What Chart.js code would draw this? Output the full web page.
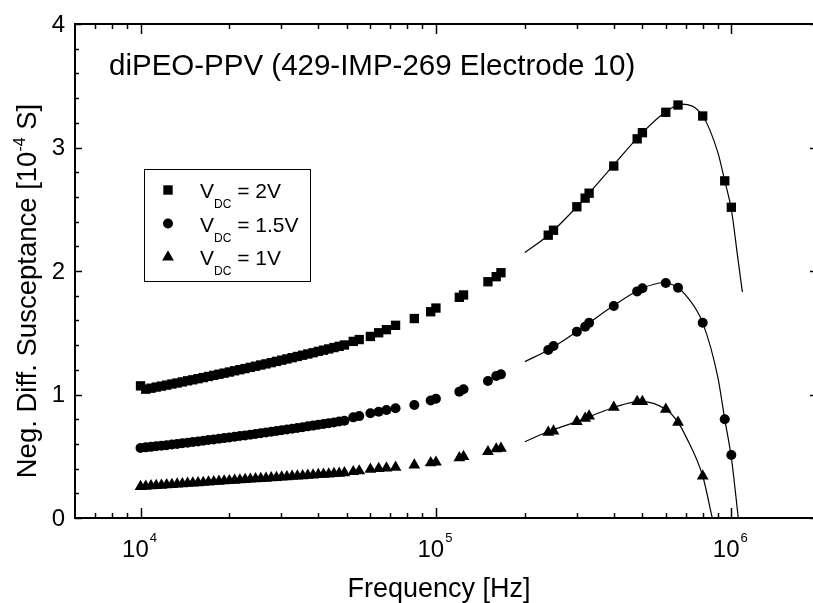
<!DOCTYPE html>
<html>
<head>
<meta charset="utf-8">
<title>diPEO-PPV susceptance</title>
<script src="https://cdn.jsdelivr.net/npm/chart.js@4.4.1/dist/chart.umd.min.js"></script>
<style>
  html, body { margin: 0; padding: 0; background: #fff; overflow: hidden; }
  #wrap { width: 820px; height: 603px; }
</style>
</head>
<body>
<div id="wrap"><canvas id="grafico" width="820" height="603"></canvas></div>
<script>

// frequency sweep [Hz], same for the three bias voltages
let frecuencias = [10000, 10416, 10849, 11300, 11770, 12260, 12770, 13301, 13854, 14430,
  15031, 15656, 16307, 16985, 17691, 18427, 19193, 19991, 20823, 21689,
  22591, 23531, 24510, 25529, 26591, 27697, 28849, 30049, 31299, 32601,
  33957, 35369, 36841, 38373, 39969, 41632, 43364, 45168, 47047, 49004,
  52500, 55000, 60000, 64000, 68000, 73000, 84500, 96000, 100000, 120000,
  124000, 150000, 160000, 166000,
  240000, 250000, 300000, 320000, 330000, 400000, 480000, 500000, 600000, 660000,
  800000, 950000, 1000000];

// neg. diff. susceptance [1e-4 S]
let vdc2 = [1.07, 1.043, 1.051, 1.060, 1.068, 1.076, 1.085, 1.093, 1.102, 1.111,
  1.119, 1.128, 1.137, 1.146, 1.155, 1.164, 1.173, 1.182, 1.192, 1.201,
  1.210, 1.220, 1.229, 1.239, 1.248, 1.258, 1.268, 1.278, 1.288, 1.298,
  1.308, 1.318, 1.328, 1.338, 1.349, 1.359, 1.369, 1.380, 1.390, 1.401,
  1.43, 1.445, 1.47, 1.50, 1.525, 1.56, 1.615, 1.67, 1.70, 1.787,
  1.806, 1.913, 1.954, 1.986,
  2.29, 2.33, 2.52, 2.59, 2.63, 2.85, 3.07, 3.12, 3.285, 3.344,
  3.255, 2.73, 2.516];

let vdc15 = [0.567, 0.572, 0.576, 0.581, 0.586, 0.590, 0.595, 0.600, 0.605, 0.610,
  0.615, 0.620, 0.626, 0.631, 0.636, 0.641, 0.647, 0.652, 0.658, 0.664,
  0.669, 0.675, 0.681, 0.687, 0.693, 0.698, 0.704, 0.711, 0.717, 0.723,
  0.729, 0.735, 0.742, 0.748, 0.755, 0.761, 0.768, 0.774, 0.781, 0.788,
  0.815, 0.825, 0.848, 0.861, 0.875, 0.888, 0.915, 0.952, 0.965, 1.023,
  1.042, 1.109, 1.15, 1.163,
  1.36, 1.393, 1.509, 1.549, 1.58, 1.717, 1.835, 1.86, 1.903, 1.865,
  1.581, 0.80, 0.51];

let vdc1 = [0.254, 0.257, 0.260, 0.263, 0.265, 0.268, 0.271, 0.274, 0.277, 0.280,
  0.282, 0.285, 0.288, 0.291, 0.294, 0.297, 0.300, 0.302, 0.305, 0.308,
  0.311, 0.314, 0.317, 0.319, 0.322, 0.325, 0.328, 0.331, 0.334, 0.337,
  0.339, 0.342, 0.345, 0.348, 0.351, 0.354, 0.356, 0.359, 0.362, 0.365,
  0.375, 0.381, 0.394, 0.40, 0.405, 0.41, 0.429, 0.446, 0.452, 0.488,
  0.497, 0.537, 0.559, 0.564,
  0.694, 0.704, 0.78, 0.807, 0.826, 0.896, 0.942, 0.942, 0.88, 0.775,
  0.34, null, null];

// fitted curves
let ajusteFrec2 = [200000, 240000, 300000, 400000, 500000, 600000, 680000, 800000, 900000, 950000, 1000000, 1050000, 1090000];
let ajuste2 = [2.15, 2.29, 2.52, 2.86, 3.12, 3.29, 3.352, 3.255, 2.96, 2.73, 2.50, 2.12, 1.83];

let ajusteFrec15 = [200000, 240000, 300000, 400000, 500000, 590000, 660000, 700000, 800000, 900000, 950000, 1000000, 1056000];
let ajuste15 = [1.266, 1.36, 1.51, 1.72, 1.86, 1.905, 1.865, 1.806, 1.58, 1.14, 0.80, 0.49, 0];

let ajusteFrec1 = [200000, 240000, 300000, 400000, 490000, 600000, 660000, 700000, 800000, 862000];
let ajuste1 = [0.618, 0.70, 0.78, 0.895, 0.945, 0.88, 0.775, 0.665, 0.34, 0];

let yEtiquetas = [0, 1, 2, 3, 4];
let xDecadas = [4, 5, 6];
let leyenda = [
  { estilo: 'rect', resto: ' = 2V' },
  { estilo: 'circle', resto: ' = 1.5V' },
  { estilo: 'triangle', resto: ' = 1V' }
];

let fuente = '"Liberation Sans", Arial, Helvetica, sans-serif';

function puntos(xs, ys) {
  return xs.map((f, i) => ({ x: f, y: ys[i] }));
}

function marcador(ctx, estilo, x, y) {
  ctx.beginPath();
  if (estilo === 'rect') {
    ctx.rect(x - 4.7, y - 4.7, 9.4, 9.4);
  } else if (estilo === 'circle') {
    ctx.arc(x, y, 5, 0, Math.PI * 2);
  } else {
    ctx.moveTo(x, y - 6.8);
    ctx.lineTo(x + 5.9, y + 3.4);
    ctx.lineTo(x - 5.9, y + 3.4);
    ctx.closePath();
  }
  ctx.fill();
}

let marco = {
  id: 'marco',
  afterDatasetsDraw(chart) {
    let ctx = chart.ctx;
    let sx = chart.scales.x, sy = chart.scales.y;
    let a = chart.chartArea;
    ctx.save();
    ctx.strokeStyle = '#000';
    ctx.fillStyle = '#000';

    // frame
    ctx.lineWidth = 2;
    ctx.strokeRect(a.left, a.top, a.right - a.left, a.bottom - a.top);

    // inward ticks
    ctx.lineWidth = 1.5;
    ctx.beginPath();
    for (let i = 0; i <= 20; i++) {
      let v = i * 0.2;
      let py = Math.round(sy.getPixelForValue(v)) + 0.5;
      let largo = i % 5 === 0 ? 7 : 4;
      ctx.moveTo(a.left, py); ctx.lineTo(a.left + largo, py);
      ctx.moveTo(a.right, py); ctx.lineTo(a.right - largo, py);
    }
    for (let d = 3; d <= 6; d++) {
      for (let m = 1; m <= 9; m++) {
        let f = m * Math.pow(10, d);
        if (f <= sx.min || f >= sx.max) continue;
        let px = Math.round(sx.getPixelForValue(f)) + 0.5;
        let largo = m === 1 ? 10 : 5;
        ctx.moveTo(px, a.bottom); ctx.lineTo(px, a.bottom - largo);
        ctx.moveTo(px, a.top); ctx.lineTo(px, a.top + largo);
      }
    }
    ctx.stroke();

    // y tick labels
    ctx.font = '24px ' + fuente;
    ctx.textAlign = 'right';
    ctx.textBaseline = 'middle';
    yEtiquetas.forEach(v => {
      ctx.fillText(String(v), a.left - 10, sy.getPixelForValue(v) + 1);
    });

    // x tick labels 10^n
    ctx.textBaseline = 'alphabetic';
    ctx.textAlign = 'left';
    xDecadas.forEach(n => {
      let px = sx.getPixelForValue(Math.pow(10, n));
      ctx.font = '24px ' + fuente;
      let w1 = ctx.measureText('10').width;
      ctx.font = '13px ' + fuente;
      let w2 = ctx.measureText(String(n)).width;
      let x0 = px - (w1 + w2 + 1) / 2 - 1;
      ctx.font = '24px ' + fuente;
      ctx.fillText('10', x0, 557);
      ctx.font = '13px ' + fuente;
      ctx.fillText(String(n), x0 + w1 + 1, 542);
    });

    // axis titles
    ctx.font = '27px ' + fuente;
    ctx.textAlign = 'center';
    ctx.fillText('Frequency [Hz]', 439, 597);

    ctx.save();
    ctx.translate(36, 291);
    ctx.rotate(-Math.PI / 2);
    let p1 = 'Neg. Diff. Susceptance [10', sup = '-4', p2 = ' S]';
    ctx.font = '27.5px ' + fuente;
    let w1 = ctx.measureText(p1).width, w3 = ctx.measureText(p2).width;
    ctx.font = '16px ' + fuente;
    let w2 = ctx.measureText(sup).width;
    let x0 = -(w1 + w2 + w3) / 2;
    ctx.textAlign = 'left';
    ctx.font = '27.5px ' + fuente;
    ctx.fillText(p1, x0, 0);
    ctx.font = '16px ' + fuente;
    ctx.fillText(sup, x0 + w1, -11);
    ctx.font = '27.5px ' + fuente;
    ctx.fillText(p2, x0 + w1 + w2, 0);
    ctx.restore();

    // sample annotation
    ctx.font = '29.5px ' + fuente;
    ctx.textAlign = 'left';
    ctx.fillText('diPEO-PPV (429-IMP-269 Electrode 10)', 109, 75);

    // legend box
    ctx.lineWidth = 1;
    ctx.strokeStyle = '#000';
    ctx.strokeRect(144.5, 169.5, 166, 112);
    leyenda.forEach((l, i) => {
      let y = 190 + i * 33.5;
      marcador(ctx, l.estilo, 168, y);
      ctx.font = '21px ' + fuente;
      ctx.fillText('V', 200, y + 8);
      let wv = ctx.measureText('V').width;
      ctx.font = '12px ' + fuente;
      ctx.fillText('DC', 200 + wv, y + 18);
      let wd = ctx.measureText('DC').width;
      ctx.font = '21px ' + fuente;
      ctx.fillText(l.resto, 200 + wv + wd, y + 8);
    });

    ctx.restore();
  }
};

let ctx = document.getElementById('grafico').getContext('2d');

let grafico = new Chart(ctx, {
  type: 'scatter',
  data: {
    datasets: [
      { data: puntos(frecuencias, vdc2), pointStyle: 'rect', pointRadius: 6.6, backgroundColor: '#000', borderWidth: 0, order: 1 },
      { data: puntos(frecuencias, vdc15), pointStyle: 'circle', pointRadius: 5, backgroundColor: '#000', borderWidth: 0, order: 1 },
      { data: puntos(frecuencias, vdc1), pointStyle: 'triangle', pointRadius: 6.8, backgroundColor: '#000', borderWidth: 0, order: 1 },
      { type: 'line', data: puntos(ajusteFrec2, ajuste2), showLine: true, pointRadius: 0, borderColor: '#000', borderWidth: 1.2, cubicInterpolationMode: 'monotone', order: 2 },
      { type: 'line', data: puntos(ajusteFrec15, ajuste15), showLine: true, pointRadius: 0, borderColor: '#000', borderWidth: 1.2, cubicInterpolationMode: 'monotone', order: 2 },
      { type: 'line', data: puntos(ajusteFrec1, ajuste1), showLine: true, pointRadius: 0, borderColor: '#000', borderWidth: 1.2, cubicInterpolationMode: 'monotone', order: 2 }
    ]
  },
  options: {
    responsive: false,
    animation: false,
    events: [],
    layout: { autoPadding: false, padding: { left: 0, right: 3, top: 24, bottom: 0 } },
    plugins: { legend: { display: false }, tooltip: { enabled: false } },
    scales: {
      x: {
        type: 'logarithmic', min: 6000, max: 1.95e6,
        grid: { display: false }, border: { display: false }, ticks: { display: false },
        afterFit(s) { s.height = 85; }
      },
      y: {
        type: 'linear', min: 0, max: 4,
        grid: { display: false }, border: { display: false }, ticks: { display: false },
        afterFit(s) { s.width = 75; }
      }
    }
  },
  plugins: [marco]
});

</script>
</body>
</html>
